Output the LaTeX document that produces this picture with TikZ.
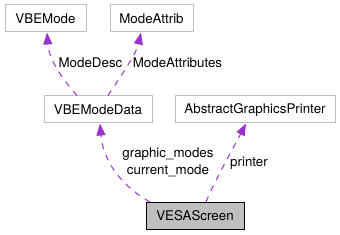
\documentclass[tikz,border=0pt]{standalone}
\usepackage{fontspec}
\setmainfont{TeX Gyre Heros}
\usepackage{tikz}
\usetikzlibrary{arrows.meta,calc}
\definecolor{edgePurple}{RGB}{154,50,205}
\definecolor{boxGray}{RGB}{191,191,191}

\begin{document}
\begin{tikzpicture}[x=0.75pt,y=-0.75pt,
    classbox/.style={draw=boxGray,line width=0.75pt,minimum height=20.25pt,inner sep=0pt,font=\fontsize{10}{12}\selectfont},
    usage/.style={edgePurple,line width=0.75pt,dash pattern=on 4.5pt off 4.5pt,-{Triangle[length=9pt,width=6.75pt]}},
    edgelabel/.style={font=\fontsize{10}{12.75}\selectfont,inner sep=0pt,align=center}]
        \useasboundingbox (0,0) rectangle (340,235);
        % classes
        \node[classbox,minimum width=60.75pt] (vbemode) at (45.5,18.5) {VBEMode};
        \node[classbox,minimum width=62.25pt] (modeattrib) at (151.5,18.5) {ModeAttrib};
        \node[classbox,minimum width=81pt] (modedata) at (98,109.5) {VBEModeData};
        \node[classbox,minimum width=120pt] (printerbox) at (255,109.5) {AbstractGraphicsPrinter};
        \node[classbox,draw=black,fill=boxGray,minimum width=73.5pt] (vesa) at (195,216) {VESAScreen};
        % usage edges
        \draw[usage] ($(modedata.north)+(-21,0)$) .. controls (63,80) and (49,60) .. ($(vbemode.south)+(1.5,0)$);
        \draw[usage] ($(modedata.north)+(10,0)$) .. controls (118,80) and (136,55) .. ($(modeattrib.south)+(-10.5,0)$);
        \draw[usage] ($(vesa.north)+(-45,0)$) .. controls (120,185) and (103,160) .. ($(modedata.south)+(2,0)$);
        \draw[usage] ($(vesa.north)+(11,0)$) .. controls (215,180) and (235,145) .. ($(printerbox.south)+(-9,0)$);
        % labels
        \node[edgelabel] (descLabel) at (90.5,63) {ModeDesc};
        \node[edgelabel] (attrLabel) at (177.5,63) {ModeAttributes};
        \node[edgelabel] (modesLabel) at (168,162.5) {graphic\_modes\\current\_mode};
        \node[edgelabel] (printerLabel) at (249,163) {printer};
      \end{tikzpicture}
\end{document}
